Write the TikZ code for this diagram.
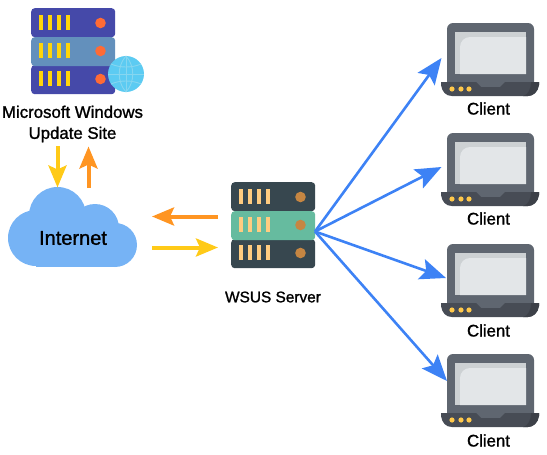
\documentclass[tikz,border=0pt]{standalone}
\usepackage{fontspec}
\setmainfont{Liberation Sans}
\newfontfamily\lab[FakeBold=1.3]{Liberation Sans}
\usetikzlibrary{arrows.meta}
\definecolor{siterow}{HTML}{4549A9}
\definecolor{sitemid}{HTML}{6390BC}
\definecolor{sitebar}{HTML}{FFD50A}
\definecolor{sitedot}{HTML}{FF6B35}
\definecolor{globefill}{HTML}{5CCBF2}
\definecolor{globeline}{HTML}{86D6F0}
\definecolor{srvrow}{HTML}{37474F}
\definecolor{srvmid}{HTML}{66BB9F}
\definecolor{srvbar}{HTML}{FFCC80}
\definecolor{srvdot}{HTML}{C68642}
\definecolor{lapbody}{HTML}{5F6670}
\definecolor{lapbase}{HTML}{474C55}
\definecolor{lapbased}{HTML}{3C4048}
\definecolor{lapscrA}{HTML}{CDD1D3}
\definecolor{lapscrB}{HTML}{E3E6E8}
\definecolor{lapdot}{HTML}{FFC84A}
\definecolor{netblue}{HTML}{3D82F5}
\definecolor{cloudblue}{HTML}{76B3F5}
\definecolor{flowyellow}{HTML}{FFCA18}
\definecolor{floworange}{HTML}{FF9522}
\tikzset{
  rowbox/.style={rectangle,rounded corners=3.5pt,minimum width=84pt,minimum height=29pt,inner sep=0pt,anchor=north west},
  lbl/.style={inner sep=0pt,align=center,font=\lab\fontsize{16.8}{21}\selectfont,text=black},
  flow/.style={line width=4pt,-{Stealth[length=22pt,width=18pt,inset=4pt]}},
  link/.style={netblue,line width=2.6pt,-{Stealth[length=26pt,width=21pt,inset=5pt]}},
}
\newcommand{\rackbars}[4]{% x y bar-colour dot-colour
  \foreach \dx in {8,17,26,35}{\fill[#3] (#1+\dx,#2+7) rectangle (#1+\dx+4,#2+22);}
  \fill[#4] (#1+69.5,#2+15) circle (5.3);
}
\newcommand{\laptop}[3]{% name x y (top-left of lid)
  \fill[lapbody,rounded corners=6pt] (#2+6,#3+68) -- (#2+6,#3) -- (#2+93,#3) -- (#2+93,#3+68) -- cycle;
  \fill[lapscrA] (#2+14,#3+9) rectangle (#2+85,#3+51);
  \fill[lapscrB] (#2+19,#3+51) [rounded corners=10pt] -- (#2+19,#3+14) [sharp corners] -- (#2+85,#3+14) -- (#2+85,#3+51) -- cycle;
  \fill[lapbase] (#2,#3+59) -- (#2+35,#3+59) -- (#2+40,#3+64) -- (#2+59,#3+64) -- (#2+64,#3+59) -- (#2+98,#3+59) -- (#2+98,#3+62) .. controls (#2+97,#3+69) and (#2+92,#3+73) .. (#2+87,#3+73) -- (#2+11,#3+73) .. controls (#2+5,#3+73) and (#2+1,#3+69) .. (#2,#3+62) -- cycle;
  \fill[lapbased] (#2+90,#3+59) -- (#2+98,#3+59) -- (#2+98,#3+62) .. controls (#2+97,#3+69) and (#2+92,#3+73) .. (#2+87,#3+73) -- (#2+82,#3+73) .. controls (#2+87,#3+72) and (#2+90,#3+66) .. cycle;
  \foreach \dx in {11,20,28}{\fill[lapdot] (#2+\dx,#3+66) circle (2.6);}
}
\begin{document}
\begin{tikzpicture}[x=1pt,y=-1pt]
\useasboundingbox (0,0) rectangle (547,455);
% update site rack
\node[rowbox,fill=siterow] (siteA) at (31,8) {};
\node[rowbox,fill=siterow] (siteC) at (31,65) {};
\node[rowbox,fill=sitemid] (siteB) at (31,37) {};
\rackbars{31}{8}{sitebar}{sitedot}
\rackbars{31}{36}{sitebar}{sitedot}
\rackbars{31}{64}{sitebar}{sitedot}
% globe
\fill[globefill] (126,74) circle (18);
\draw[globeline,line width=0.9pt] (126,56) -- (126,92);
\draw[globeline,line width=0.9pt] (126,56) .. controls (117,66) and (117,82) .. (126,92);
\draw[globeline,line width=0.9pt] (126,56) .. controls (135,66) and (135,82) .. (126,92);
\draw[globeline,line width=0.9pt] (108,74) -- (144,74);
\draw[globeline,line width=0.9pt] (111,64) .. controls (120,68) and (132,68) .. (141,64);
\draw[globeline,line width=0.9pt] (111,84) .. controls (120,80) and (132,80) .. (141,84);
\node[lbl] (sitelabel) at (72.5,124) {Microsoft Windows\\Update Site};
% cloud
\fill[cloudblue] (36,238) circle (28);
\fill[cloudblue] (57.5,215.5) circle (28.5);
\fill[cloudblue] (95,228) circle (24);
\fill[cloudblue] (115,245) circle (22);
\fill[cloudblue] (36,240) rectangle (115,266.5);
\node[inner sep=0pt,font=\lab\fontsize{20}{21}\selectfont] (internet) at (73,238) {Internet};
\coordinate (cloudTopA) at (57.5,187.5);
\coordinate (cloudTopB) at (88.5,188);
\coordinate (siteOut) at (57.5,146);
\coordinate (siteIn) at (88.5,146.5);
\draw[flow,flowyellow] (siteOut) -- (cloudTopA);
\draw[flow,floworange] (cloudTopB) -- (siteIn);
% WSUS rack
\node[rowbox,fill=srvrow] (srvA) at (231,182) {};
\node[rowbox,fill=srvrow] (srvC) at (231,239) {};
\node[rowbox,fill=srvmid] (wsus) at (231,211) {};
\rackbars{231}{182}{srvbar}{srvdot}
\rackbars{231}{210}{srvbar}{srvdot}
\rackbars{231}{238}{srvbar}{srvdot}
\node[lbl,font=\lab\fontsize{15.4}{18}\selectfont] (wsuslabel) at (273,297) {WSUS Server};
\coordinate (wsusOut) at (218,216.5);
\coordinate (netOut) at (152,216.5);
\coordinate (netIn) at (152,247.5);
\coordinate (wsusIn) at (218,247.5);
\draw[flow,floworange] (wsusOut) -- (netOut);
\draw[flow,flowyellow] (netIn) -- (wsusIn);
% clients
\laptop{c1}{441}{23}
\laptop{c2}{441}{133}
\laptop{c3}{441}{244}
\laptop{c4}{441}{354}
\node[lbl] (client1) at (488.5,108.5) {Client};
\node[lbl] (client2) at (488.5,218.5) {Client};
\node[lbl] (client3) at (488.5,330.5) {Client};
\node[lbl] (client4) at (488.5,440.5) {Client};
\coordinate (hub) at (315,231.5);
\coordinate (tipA) at (441.5,58);
\coordinate (tipB) at (441.5,167);
\coordinate (tipC) at (446,278);
\coordinate (tipD) at (447,381);
\draw[link] (hub) -- (tipA);
\draw[link] (hub) -- (tipB);
\draw[link] (hub) -- (tipC);
\draw[link] (hub) -- (tipD);
\end{tikzpicture}
\end{document}
